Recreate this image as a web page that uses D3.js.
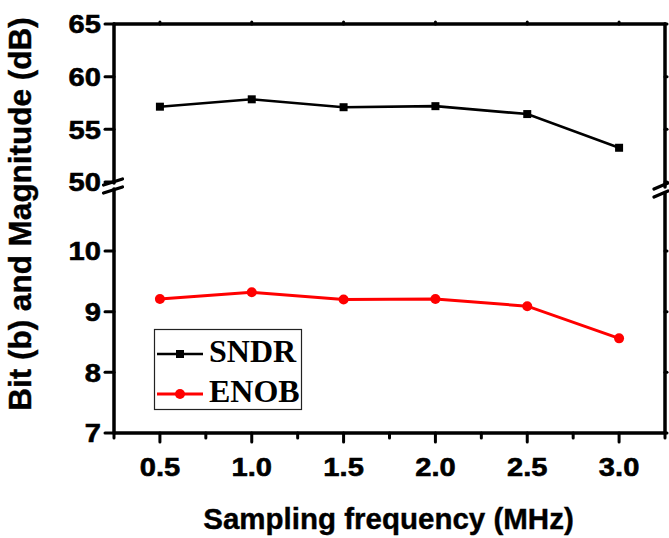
<!DOCTYPE html>
<html>
<head>
<meta charset="utf-8">
<script src="https://cdn.jsdelivr.net/npm/d3@7"></script>
<style>
  html, body { margin: 0; padding: 0; background: #fff; }
  svg { display: block; }
</style>
</head>
<body>
<svg id="chart" width="669" height="538"></svg>
<script>
// Sampling frequency sweep (MHz)
const frequencies = [0.5, 1.0, 1.5, 2.0, 2.5, 3.0];
// Signal-to-noise-and-distortion ratio (dB)
const sndr = [57.15, 57.85, 57.1, 57.2, 56.45, 53.25];
// Effective number of bits
const enob = [9.21, 9.32, 9.20, 9.21, 9.09, 8.56];

const xMajorTicks = [0.5, 1.0, 1.5, 2.0, 2.5, 3.0];
const xMinorTicks = [0.25, 0.75, 1.25, 1.75, 2.25, 2.75, 3.25];
const yUpperTicks = [50, 55, 60, 65];
const yLowerTicks = [7, 8, 9, 10];
const seriesNames = ["SNDR", "ENOB"];

(function draw() {
  const svg = d3.select("#chart");
  const sansBold = "'Liberation Sans', Arial, sans-serif";
  const serifBold = "'Liberation Serif', 'Times New Roman', serif";

  const plotL = 114, plotR = 665, plotT = 24, plotB = 433;
  const breakUp = 183, breakLow = 189;

  const x = d3.scaleLinear().domain([0.25, 3.25]).range([plotL, plotR]);
  const yUp = d3.scaleLinear().domain([50, 65]).range([182, plotT]);
  const yLow = d3.scaleLinear().domain([7, 10]).range([plotB, 251]);

  const axisW = 3.5;
  const frame = svg.append("g")
    .attr("stroke", "#000").attr("stroke-width", axisW)
    .attr("stroke-linecap", "round").attr("fill", "none");

  // frame lines (left and right axes broken between the two segments)
  frame.append("line").attr("x1", plotL).attr("x2", plotR).attr("y1", plotT).attr("y2", plotT);
  frame.append("line").attr("x1", plotL).attr("x2", plotR).attr("y1", plotB).attr("y2", plotB);
  frame.append("line").attr("x1", plotL).attr("x2", plotL).attr("y1", plotT).attr("y2", breakUp);
  frame.append("line").attr("x1", plotL).attr("x2", plotL).attr("y1", breakLow).attr("y2", plotB);
  frame.append("line").attr("x1", plotR).attr("x2", plotR).attr("y1", plotT).attr("y2", breakUp + 4);
  frame.append("line").attr("x1", plotR).attr("x2", plotR).attr("y1", breakLow + 4).attr("y2", plotB);

  // break marks
  function breakMark(cx, cy, w) {
    [-4, 4].forEach(off => {
      frame.append("line")
        .attr("x1", cx - w / 2).attr("y1", cy + off + 3)
        .attr("x2", cx + w / 2).attr("y2", cy + off - 3)
        .attr("stroke-width", 3.2);
    });
  }
  breakMark(plotL - 1, (breakUp + breakLow) / 2, 19);
  breakMark(plotR - 4, (breakUp + breakLow) / 2 + 4, 14);

  // tick marks
  const tickG = svg.append("g")
    .attr("stroke", "#000").attr("stroke-width", 3).attr("stroke-linecap", "round");
  xMajorTicks.forEach(v => {
    tickG.append("line").attr("x1", x(v)).attr("x2", x(v)).attr("y1", plotB).attr("y2", plotB + 9);
    tickG.append("line").attr("x1", x(v)).attr("x2", x(v)).attr("y1", plotT).attr("y2", plotT - 2);
  });
  xMinorTicks.forEach(v => {
    tickG.append("line").attr("x1", x(v)).attr("x2", x(v)).attr("y1", plotB).attr("y2", plotB + 5);
  });
  const yTickPos = yUpperTicks.map(v => yUp(v)).concat(yLowerTicks.map(v => yLow(v)));
  yTickPos.forEach(p => {
    tickG.append("line").attr("x1", plotL).attr("x2", plotL - 9).attr("y1", p).attr("y2", p);
    tickG.append("line").attr("x1", plotR).attr("x2", plotR + 2).attr("y1", p).attr("y2", p);
  });

  // tick labels
  const tickFont = 26, stretch = 1.12;
  function yLabel(v, p) {
    svg.append("text")
      .attr("transform", `translate(${plotL - 13},${p}) scale(${stretch},1)`)
      .attr("text-anchor", "end").attr("dy", "0.36em")
      .attr("font-family", sansBold).attr("font-weight", "bold").attr("font-size", tickFont)
      .attr("stroke", "#000").attr("stroke-width", 0.6)
      .text(v);
  }
  yUpperTicks.forEach(v => yLabel(v, yUp(v)));
  yLowerTicks.forEach(v => yLabel(v, yLow(v)));
  xMajorTicks.forEach(v => {
    svg.append("text")
      .attr("transform", `translate(${x(v)},${476}) scale(${stretch},1)`)
      .attr("text-anchor", "middle")
      .attr("font-family", sansBold).attr("font-weight", "bold").attr("font-size", tickFont)
      .attr("stroke", "#000").attr("stroke-width", 0.6)
      .text(d3.format(".1f")(v));
  });

  // axis titles
  svg.append("text")
    .attr("x", (plotL + plotR) / 2 - 1).attr("y", 529)
    .attr("text-anchor", "middle")
    .attr("font-family", sansBold).attr("font-weight", "bold").attr("font-size", 29.5)
    .attr("stroke", "#000").attr("stroke-width", 0.4)
    .text("Sampling frequency (MHz)");
  svg.append("text")
    .attr("transform", "translate(31,214) rotate(-90)")
    .attr("text-anchor", "middle")
    .attr("font-family", sansBold).attr("font-weight", "bold").attr("font-size", 31.5)
    .attr("stroke", "#000").attr("stroke-width", 0.4)
    .text("Bit (b) and Magnitude (dB)");

  // data lines and markers
  const sndrLine = d3.line().x((d, i) => x(frequencies[i])).y(d => yUp(d));
  const enobLine = d3.line().x((d, i) => x(frequencies[i])).y(d => yLow(d));

  svg.append("path").datum(sndr).attr("d", sndrLine)
    .attr("fill", "none").attr("stroke", "#000").attr("stroke-width", 2.6);
  svg.append("g").selectAll("rect").data(sndr).join("rect")
    .attr("x", (d, i) => x(frequencies[i]) - 4).attr("y", d => yUp(d) - 4)
    .attr("width", 8).attr("height", 8).attr("fill", "#000");

  svg.append("path").datum(enob).attr("d", enobLine)
    .attr("fill", "none").attr("stroke", "#ff0000").attr("stroke-width", 3);
  svg.append("g").selectAll("circle").data(enob).join("circle")
    .attr("cx", (d, i) => x(frequencies[i])).attr("cy", d => yLow(d))
    .attr("r", 5).attr("fill", "#ff0000");

  // legend
  const legend = svg.append("g");
  legend.append("rect")
    .attr("x", 154.5).attr("y", 329.5).attr("width", 147).attr("height", 80)
    .attr("fill", "#fff").attr("stroke", "#222").attr("stroke-width", 1.2);
  const legendRows = [
    { name: seriesNames[0], color: "#000", y: 354, marker: "square" },
    { name: seriesNames[1], color: "#ff0000", y: 394, marker: "circle" }
  ];
  legendRows.forEach(r => {
    legend.append("line").attr("x1", 157).attr("x2", 203).attr("y1", r.y).attr("y2", r.y)
      .attr("stroke", r.color).attr("stroke-width", r.marker === "square" ? 2.6 : 3);
    if (r.marker === "square") {
      legend.append("rect").attr("x", 176).attr("y", r.y - 4).attr("width", 8).attr("height", 8).attr("fill", r.color);
    } else {
      legend.append("circle").attr("cx", 180).attr("cy", r.y).attr("r", 5).attr("fill", r.color);
    }
    legend.append("text").attr("x", 209).attr("y", r.y + 8)
      .attr("font-family", serifBold).attr("font-weight", "bold").attr("font-size", 32)
      .attr("fill", "#000")
      .text(r.name);
  });
})();
</script>
</body>
</html>
